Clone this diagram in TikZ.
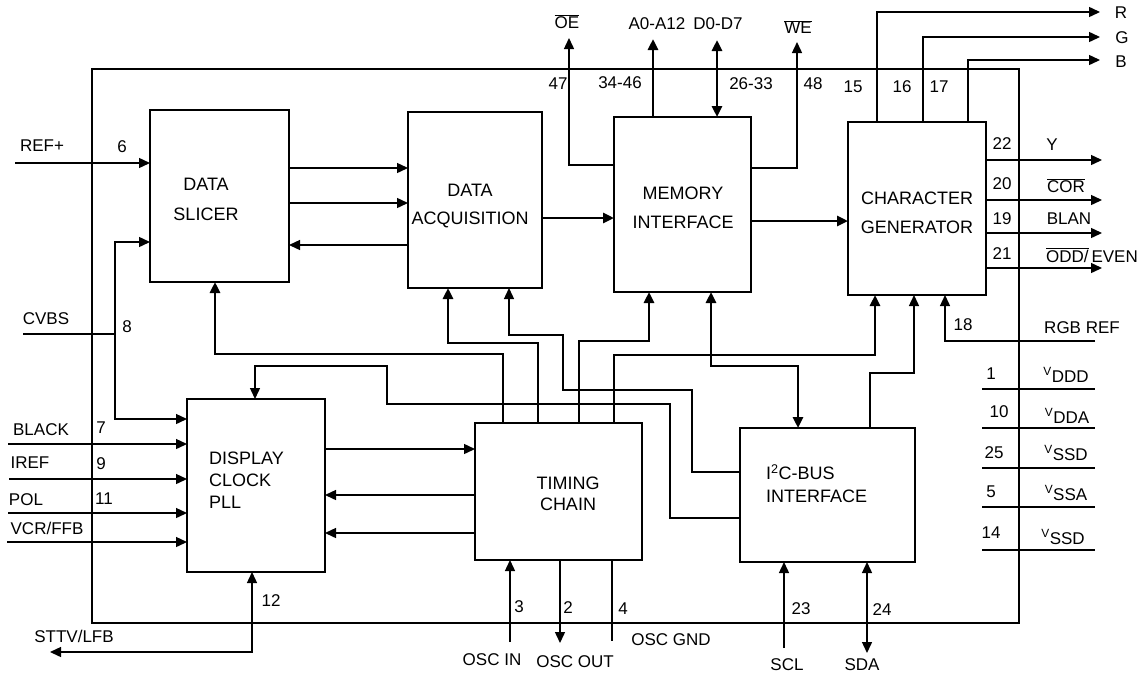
\documentclass[tikz,border=0pt]{standalone}
\usepackage{fontspec}
\setmainfont{Liberation Sans}
\usetikzlibrary{arrows.meta}
\newcommand{\ovl}[1]{$\overline{\mbox{#1}}$}
\begin{document}
\begin{tikzpicture}[x=1pt,y=-1pt,
  hd/.tip={Triangle[length=11pt,width=10pt]},
  box/.style={draw, line width=1.5pt, anchor=north west, inner sep=0pt, outer sep=0pt},
  btxt/.style={font=\fontsize{18}{29}\selectfont, align=center, inner sep=0pt},
  pin/.style={font=\fontsize{17}{20}\selectfont, inner sep=0pt},
  thinl/.style={line width=1.4pt},
  thickl/.style={line width=2.8pt},
  arr/.style={-{hd}},
  biarr/.style={{hd}-{hd}}
]
\useasboundingbox (0,0) rectangle (1147,675);

% chip outline
\draw[thinl] (92,69) rectangle (1019,623);

% blocks
\node[box, minimum width=139pt, minimum height=172pt] (slicer) at (150,110) {};
\node[box, minimum width=134pt, minimum height=176pt] (acq) at (408,112) {};
\node[box, minimum width=137pt, minimum height=175pt] (mem) at (614,117) {};
\node[box, minimum width=138pt, minimum height=173pt] (chargen) at (848,122) {};
\node[box, minimum width=138pt, minimum height=173pt] (pll) at (187,399) {};
\node[box, minimum width=167pt, minimum height=137pt] (timing) at (475,423) {};
\node[box, minimum width=175pt, minimum height=134pt] (i2c) at (740,428) {};

% block texts
\node[btxt, font=\fontsize{18}{30}\selectfont] (slicertxt) at (206,199) {DATA\\SLICER};
\node[btxt, font=\fontsize{18}{28}\selectfont] (acqtxt) at (470,206) {DATA\\ACQUISITION};
\node[btxt] (memtxt) at (683,208) {MEMORY\\INTERFACE};
\node[btxt] (chartxt) at (917,213) {CHARACTER\\GENERATOR};
\node[btxt, font=\fontsize{18}{22}\selectfont, align=left, anchor=west] (plltxt) at (209,480) {DISPLAY\\CLOCK\\PLL};
\node[btxt, font=\fontsize{18}{21}\selectfont] (timtxt) at (568,494) {TIMING\\CHAIN};
\node[btxt, font=\fontsize{18}{23}\selectfont, align=left, anchor=west] (i2ctxt) at (766,484) {I\textsuperscript{2}C-BUS\\INTERFACE};

% left inputs
\coordinate (refp) at (15,163);
\draw[thinl,arr] (refp) -- (slicer.west |- refp);
\coordinate (cvbs) at (23,334);
\coordinate (cvbsj) at (115,334);
\draw[thinl] (cvbs) -- (cvbsj);
\draw[thinl,arr] (cvbsj) |- (slicer.west |- 0,242);
\draw[thinl,arr] (cvbsj) |- (pll.west |- 0,419);
\coordinate (black) at (8,444);
\coordinate (iref) at (9,479);
\coordinate (pol) at (8,513);
\coordinate (vcr) at (7,542);
\draw[thinl,arr] (black) -- (pll.west |- black);
\draw[thinl,arr] (iref) -- (pll.west |- iref);
\draw[thinl,arr] (pol) -- (pll.west |- pol);
\draw[thinl,arr] (vcr) -- (pll.west |- vcr);
\coordinate (sttv) at (50,652);
\draw[thinl,biarr] (pll.south -| 252,0) |- (sttv);

% slicer <-> acquisition
\draw[thinl,arr] (slicer.east |- 0,168) -- (acq.west |- 0,168);
\draw[thinl,arr] (slicer.east |- 0,203) -- (acq.west |- 0,203);
\draw[thinl,arr] (acq.west |- 0,245) -- (slicer.east |- 0,245);

% data path
\draw[thickl,arr] (acq.east |- 0,218) -- (mem.west |- 0,218);
\draw[thickl,arr] (mem.east |- 0,221) -- (chargen.west |- 0,221);

% memory pins
\coordinate (oe) at (569,38);
\draw[thinl,arr] (mem.west |- 0,165) -| (oe);
\coordinate (addr) at (653,39);
\draw[thickl,arr] (mem.north -| addr) -- (addr);
\coordinate (data) at (717,40);
\draw[thickl,biarr] (mem.north -| data) -- (data);
\coordinate (we) at (797,42);
\draw[thinl,arr] (mem.east |- 0,168) -| (we);

% RGB outputs
\coordinate (r) at (1100,12);
\coordinate (g) at (1100,37);
\coordinate (b) at (1100,60);
\draw[thinl,arr] (chargen.north -| 877,0) |- (r);
\draw[thinl,arr] (chargen.north -| 923,0) |- (g);
\draw[thinl,arr] (chargen.north -| 968,0) |- (b);

% right outputs
\coordinate (yo) at (1102,160);
\coordinate (coro) at (1102,200);
\coordinate (blano) at (1102,233);
\coordinate (oddo) at (1102,268);
\draw[thinl,arr] (chargen.east |- yo) -- (yo);
\draw[thinl,arr] (chargen.east |- coro) -- (coro);
\draw[thinl,arr] (chargen.east |- blano) -- (blano);
\draw[thinl,arr] (chargen.east |- oddo) -- (oddo);

% RGB REF
\coordinate (rgbref) at (1095,341);
\draw[thinl,arr] (rgbref) -| (chargen.south -| 945,0);

% supply pins
\foreach \yy in {389,428,468,507,550} \draw[thinl] (982,\yy) -- (1095,\yy);

% PLL <-> timing
\draw[thinl,arr] (pll.east |- 0,449) -- (timing.west |- 0,449);
\draw[thinl,arr] (timing.west |- 0,495) -- (pll.east |- 0,495);
\draw[thinl,arr] (timing.west |- 0,533) -- (pll.east |- 0,533);

% timing chain buses
\draw[thickl,arr] (timing.north -| 503,0) |- (215,354) -- (slicer.south -| 215,0);
\draw[thickl,arr] (timing.north -| 538,0) |- (448,343) -- (acq.south -| 448,0);
\draw[thickl,arr] (timing.north -| 579,0) |- (649,341) -- (mem.south -| 649,0);
\draw[thickl,arr] (timing.north -| 614,0) |- (875,355) -- (chargen.south -| 875,0);
\draw[thickl,biarr] (mem.south -| 711,0) |- (798,366) -- (i2c.north -| 798,0);

% I2C connections
\draw[thinl,arr] (i2c.north -| 870,0) |- (914,373) -- (chargen.south -| 914,0);
\draw[thinl,arr] (i2c.west |- 0,472) -| (692,390) -| (563,335) -| (acq.south -| 509,0);
\draw[thinl,arr] (i2c.west |- 0,518) -| (670,404) -| (387,366) -| (pll.north -| 255,0);

% oscillator
\coordinate (oscin) at (510,642);
\coordinate (oscout) at (560,643);
\coordinate (oscgnd) at (612,641);
\draw[thinl,arr] (oscin) -- (timing.south -| oscin);
\draw[thinl,arr] (timing.south -| oscout) -- (oscout);
\draw[thinl] (timing.south -| oscgnd) -- (oscgnd);

% I2C bus pins
\coordinate (scl) at (784,648);
\coordinate (sda) at (867,653);
\draw[thinl,arr] (scl) -- (i2c.south -| scl);
\draw[thinl,biarr] (i2c.south -| sda) -- (sda);

% pin labels
\node[pin] (lrefp) at (42,146) {REF+};
\node[pin] (n6) at (122,147) {6};
\node[pin] (lcvbs) at (46,319) {CVBS};
\node[pin] (n8) at (127,327) {8};
\node[pin] (lblack) at (41,430) {BLACK};
\node[pin] (n7) at (101,428) {7};
\node[pin] (liref) at (30,463) {IREF};
\node[pin] (n9) at (101,464) {9};
\node[pin] (lpol) at (26,500) {POL};
\node[pin] (n11) at (104,499) {11};
\node[pin] (lvcr) at (47,528) {VCR/FFB};
\node[pin] (n12) at (271,601) {12};
\node[pin] (lsttv) at (74,636) {STTV/LFB};

\node[pin] (loe) at (567,22) {\ovl{OE}};
\node[pin] (laddr) at (657,24) {A0-A12};
\node[pin] (ldata) at (718,24) {D0-D7};
\node[pin] (lwe) at (798,27) {\ovl{WE}};
\node[pin] (n47) at (558,84) {47};
\node[pin] (n34) at (620,83) {34-46};
\node[pin] (n26) at (751,84) {26-33};
\node[pin] (n48) at (813,84) {48};

\node[pin] (lr) at (1121,13) {R};
\node[pin] (lg) at (1122,38) {G};
\node[pin] (lb) at (1121,62) {B};
\node[pin] (n15) at (853,87) {15};
\node[pin] (n16) at (902,87) {16};
\node[pin] (n17) at (939,87) {17};

\node[pin] (n22) at (1002,144) {22};
\node[pin] (ly) at (1052,145) {Y};
\node[pin] (n20) at (1002,184) {20};
\node[pin] (lcor) at (1066,186) {\ovl{COR}};
\node[pin] (n19) at (1002,219) {19};
\node[pin] (lblan) at (1069,219) {BLAN};
\node[pin] (n21) at (1002,254) {21};
\node[pin] (lodd) at (1092,255) {\ovl{ODD/}\,EVEN};

\node[pin] (n18) at (963,325) {18};
\node[pin] (lrgb) at (1082,328) {RGB REF};
\node[pin] (n1) at (991,374) {1};
\node[pin] (lvddd) at (1066,375) {\textsuperscript{V}DDD};
\node[pin] (n10) at (999,412) {10};
\node[pin] (lvdda) at (1067,416) {\textsuperscript{V}DDA};
\node[pin] (n25) at (994,453) {25};
\node[pin] (lvssd) at (1066,453) {\textsuperscript{V}SSD};
\node[pin] (n5) at (991,492) {5};
\node[pin] (lvssa) at (1066,493) {\textsuperscript{V}SSA};
\node[pin] (n14) at (991,533) {14};
\node[pin] (lvssd2) at (1063,537) {\textsuperscript{V}SSD};

\node[pin] (n3) at (519,607) {3};
\node[pin] (n2) at (568,608) {2};
\node[pin] (n4) at (623,609) {4};
\node[pin] (loscgnd) at (671,640) {OSC GND};
\node[pin] (loscin) at (492,660) {OSC IN};
\node[pin] (loscout) at (575,662) {OSC OUT};
\node[pin] (n23) at (801,609) {23};
\node[pin] (n24) at (882,610) {24};
\node[pin] (lscl) at (787,665) {SCL};
\node[pin] (lsda) at (862,665) {SDA};
\end{tikzpicture}
\end{document}
